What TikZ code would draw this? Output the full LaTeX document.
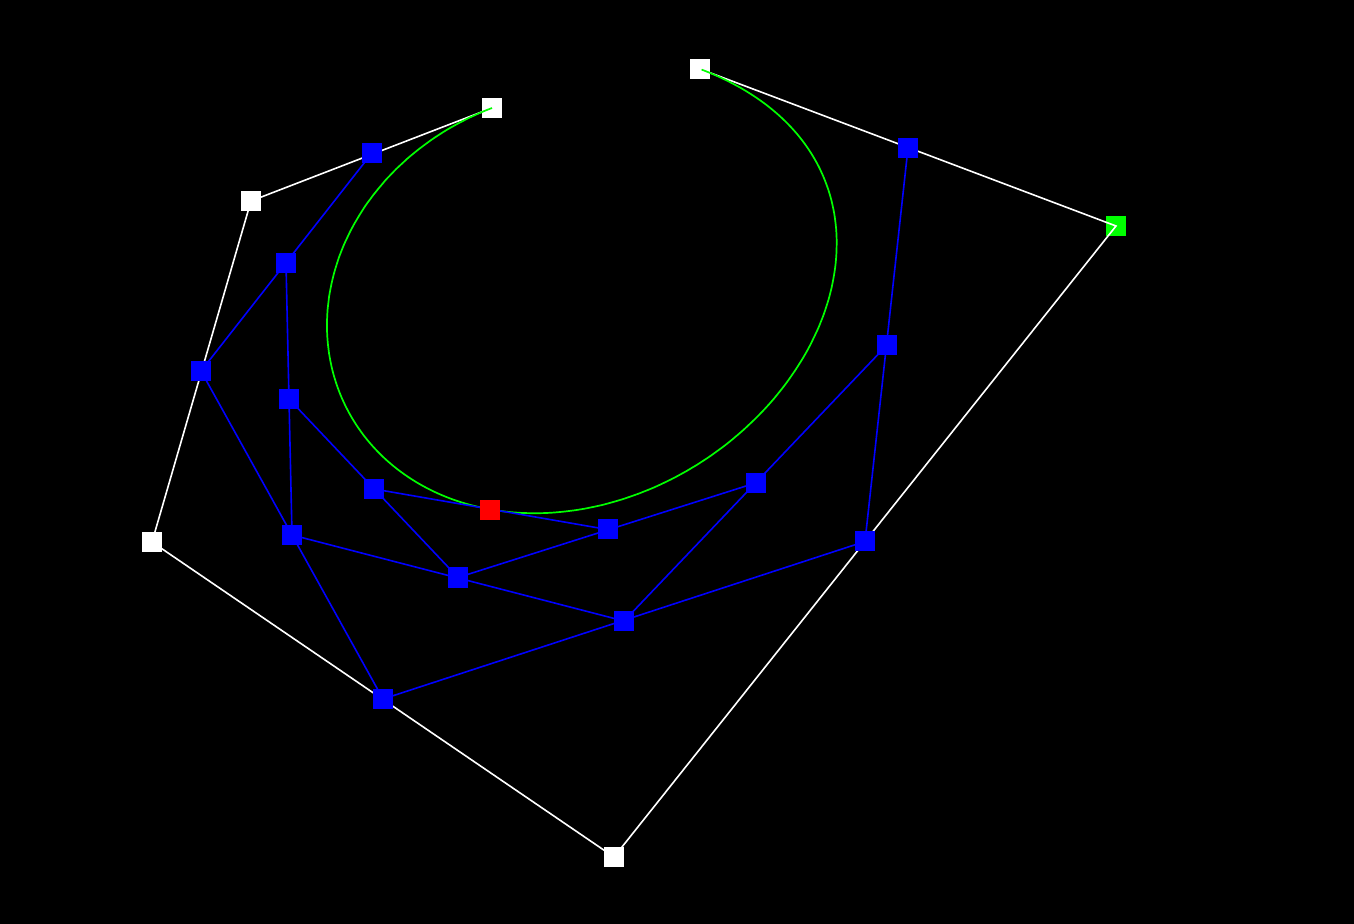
\documentclass[tikz,border=0pt]{standalone}
\tikzset{
  pt/.style={rectangle,inner sep=0pt,outer sep=0pt,minimum size=10pt,draw=none},
  ctrlpt/.style={pt,fill=white},
  endpt/.style={pt,fill=green},
  midpt/.style={pt,fill=blue},
  curvept/.style={pt,fill=red},
  poly/.style={white,line width=0.8pt},
  sub/.style={blue,line width=0.8pt},
  curve/.style={green,line width=0.85pt}
}
\begin{document}
\begin{tikzpicture}[x=0.5pt,y=-0.5pt]
\useasboundingbox[fill=black] (0,0) rectangle (1354,924);
% control polygon
\node[endpt] (p4) at (1116,226) {};
\node[ctrlpt] (p0) at (492,108) {};
\node[ctrlpt] (p1) at (251,201) {};
\node[ctrlpt] (p2) at (152,542) {};
\node[ctrlpt] (p3) at (614,857) {};
\node[ctrlpt] (p5) at (700,69) {};
\draw[poly] (p0.center) -- (p1.center) -- (p2.center) -- (p3.center) -- (p4.center) -- (p5.center);
% curve
\draw[curve] plot[domain=0:1,samples=240,smooth,variable=\t]
  ({(1-\t)^5*492+5*\t*(1-\t)^4*251+10*\t^2*(1-\t)^3*152+10*\t^3*(1-\t)^2*614+5*\t^4*(1-\t)*1116+\t^5*700},
   {(1-\t)^5*108+5*\t*(1-\t)^4*201+10*\t^2*(1-\t)^3*542+10*\t^3*(1-\t)^2*857+5*\t^4*(1-\t)*226+\t^5*69});
% construction levels
\node[midpt] (a1) at (372,153) {};
\node[midpt] (a2) at (201,371) {};
\node[midpt] (a3) at (383,699) {};
\node[midpt] (a4) at (865,541.5) {};
\node[midpt] (a5) at (908,148) {};
\node[midpt] (b1) at (286,263) {};
\node[midpt] (b2) at (292,535) {};
\node[midpt] (b3) at (624,621) {};
\node[midpt] (b4) at (887,345) {};
\node[midpt] (c1) at (289,399) {};
\node[midpt] (c2) at (458,577.5) {};
\node[midpt] (c3) at (755.5,483) {};
\node[midpt] (d1) at (374,489) {};
\node[midpt] (d2) at (607.5,529.5) {};
\draw[sub] (a1.center) -- (a2.center) -- (a3.center) -- (a4.center) -- (a5.center);
\draw[sub] (b1.center) -- (b2.center) -- (b3.center) -- (b4.center);
\draw[sub] (c1.center) -- (c2.center) -- (c3.center);
\draw[sub] (d1.center) -- (d2.center);
\node[curvept] (e) at (490,510) {};
\end{tikzpicture}
\end{document}
